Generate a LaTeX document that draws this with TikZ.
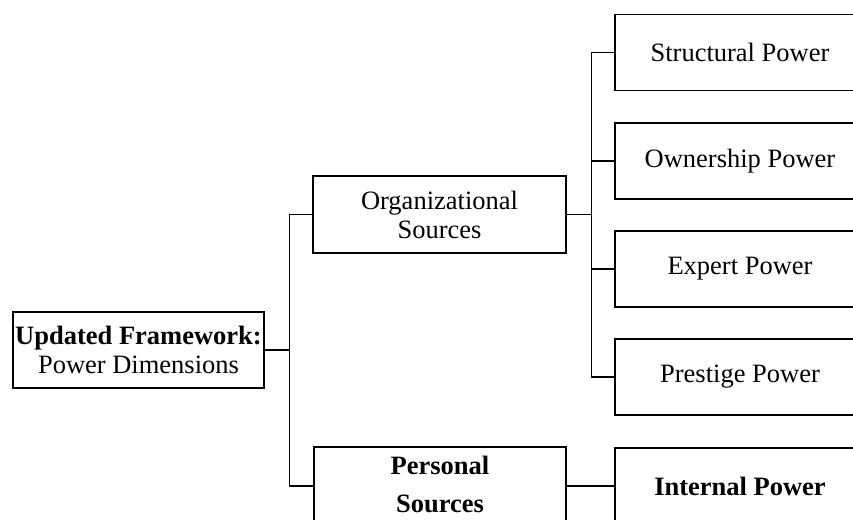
\documentclass[tikz,border=0pt]{standalone}
\usepackage{fontspec}
\setmainfont{Liberation Serif}
\begin{document}
\begin{tikzpicture}[x=1pt,y=-1pt,
  box/.style={draw, line width=1.3pt, rectangle, align=center, inner sep=0pt,
    font=\fontsize{26.5}{29}\selectfont},
  boldbox/.style={box, line width=2.2pt, font=\fontsize{26.5}{38}\selectfont\bfseries},
  conn/.style={line width=1.3pt}]
\useasboundingbox (0,0) rectangle (853,519);
\begin{scope}
\clip (0,0) rectangle (853,519);
\node[box, minimum width=251pt, minimum height=76pt] (root) at (138.5,350)
  {\textbf{Updated Framework:}\\Power Dimensions};
\node[box, minimum width=253pt, minimum height=77pt] (org) at (439.5,214.5)
  {Organizational\\Sources};
\node[boldbox, minimum width=252pt, minimum height=74pt] (pers) at (440,484)
  {Personal\\Sources};
\node[box, minimum width=250pt, minimum height=76pt] (s1) at (740,52.5) {Structural Power};
\node[box, minimum width=250pt, minimum height=76pt] (s2) at (740,161) {Ownership Power};
\node[box, minimum width=250pt, minimum height=76pt] (s3) at (740,269) {Expert Power};
\node[box, minimum width=250pt, minimum height=76pt] (s4) at (740,377) {Prestige Power};
\node[boldbox, minimum width=250pt, minimum height=76pt] (int) at (740,486) {Internal Power};
\draw[conn] (root.east) -- ++(25,0) coordinate (j1);
\draw[conn] (j1) |- (org.west);
\draw[conn] (j1) |- (int.west -| pers.west);
\draw[conn] (pers.east |- int.west) -- (int.west);
\draw[conn] (org.east) -- ++(25,0) coordinate (j2);
\draw[conn] (j2) |- (s1.west);
\draw[conn] (j2) |- (s2.west);
\draw[conn] (j2) |- (s3.west);
\draw[conn] (j2) |- (s4.west);
\end{scope}
\end{tikzpicture}
\end{document}
